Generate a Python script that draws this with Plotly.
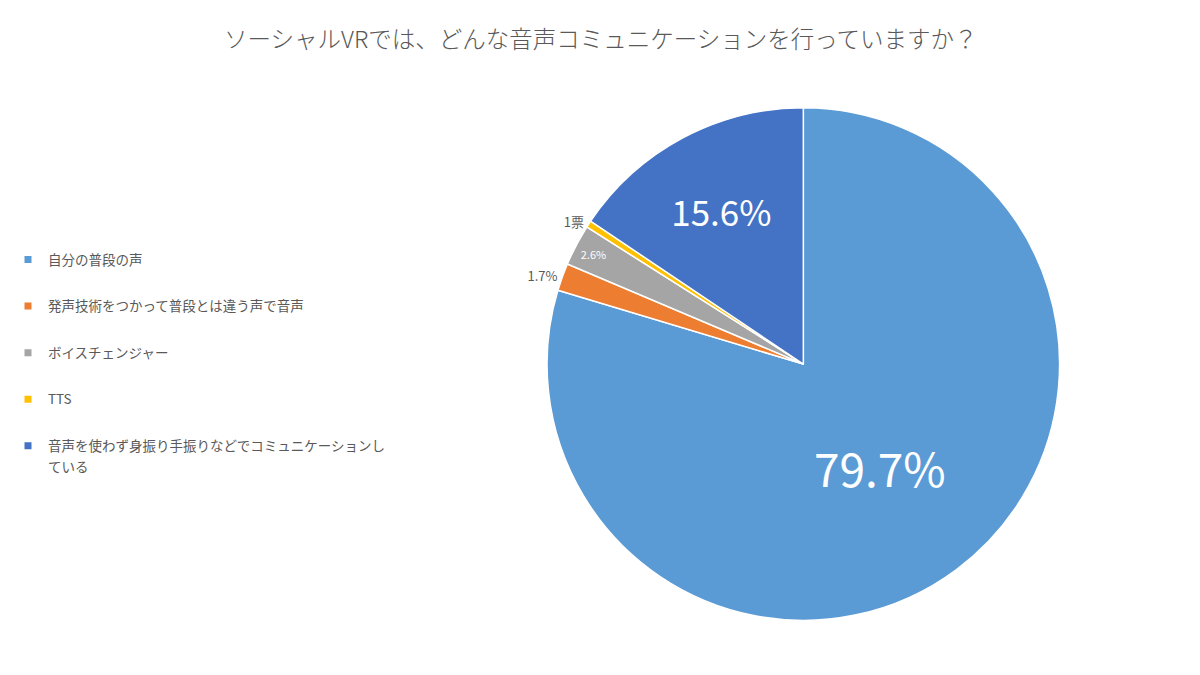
import plotly.graph_objects as go

title = "ソーシャルVRでは、どんな音声コミュニケーションを行っていますか？"
labels = ["自分の普段の声", "発声技術をつかって普段とは違う声で音声", "ボイスチェンジャー", "TTS",
          "音声を使わず身振り手振りなどでコミュニケーションしている"]
# legend lines (last label wraps onto a second line)
legend_lines = [["自分の普段の声"], ["発声技術をつかって普段とは違う声で音声"], ["ボイスチェンジャー"], ["TTS"],
                ["音声を使わず身振り手振りなどでコミュニケーションし", "ている"]]
votes = [184, 4, 6, 1, 36]
slice_text = ["79.7%", "1.7%", "2.6%", "1票", "15.6%"]
colors = ["#5B9BD5", "#ED7D31", "#A5A5A5", "#FFC000", "#4472C4"]
text_pos = ["inside", "outside", "inside", "outside", "inside"]
text_sizes = [46, 13, 11, 13, 35]
text_colors = ["white", "#595959", "white", "#595959", "white"]

FONT = "Noto Sans CJK JP"

fig = go.Figure()
fig.add_trace(go.Pie(
    labels=labels, values=votes, text=slice_text, textinfo="text",
    textposition=text_pos, insidetextorientation="horizontal",
    textfont=dict(size=text_sizes, color=text_colors, family=FONT),
    marker=dict(colors=colors, line=dict(color="white", width=1.5)),
    sort=False, direction="clockwise", rotation=0,
    domain=dict(x=[0.4455, 0.8755], y=[0.09, 0.855]),
    showlegend=False, hoverinfo="label+percent",
))

for lab, lines, col in zip(labels, legend_lines, colors):
    for i, line in enumerate(lines):
        fig.add_trace(go.Scatter(
            x=[None], y=[None], mode="markers", name=line, legendgroup=lab,
            marker=dict(symbol="square", size=7,
                        color=col if i == 0 else "rgba(0,0,0,0)"),
        ))

fig.update_layout(
    width=1200, height=675,
    paper_bgcolor="white", plot_bgcolor="white",
    margin=dict(l=0, r=0, t=0, b=0),
    title=dict(text=title, x=0.494, xanchor="center", y=0.953, yanchor="middle",
               font=dict(size=23.5, color="#595959", family=FONT, weight=300)),
    font=dict(family=FONT, color="#595959"),
    xaxis=dict(visible=False), yaxis=dict(visible=False),
    legend=dict(x=-0.007, xanchor="left", y=0.65, yanchor="top",
                font=dict(size=13.5, color="#595959", family=FONT),
                tracegroupgap=26, itemwidth=30, bgcolor="rgba(0,0,0,0)",
                traceorder="grouped"),
)

fig.write_html("out.html")
